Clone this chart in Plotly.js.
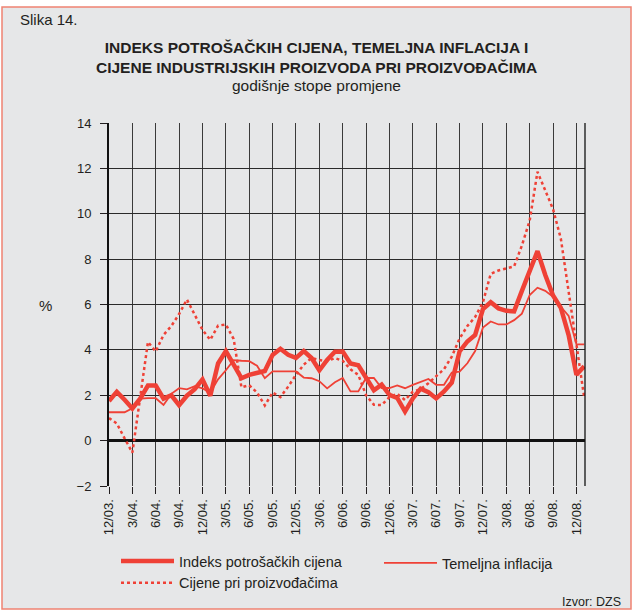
<!DOCTYPE html>
<html>
<head>
<meta charset="utf-8">
<script src="https://cdn.plot.ly/plotly-3.0.1.min.js"></script>
<style>
html,body{margin:0;padding:0;background:#fff;}
#chart{width:633px;height:610px;}
</style>
</head>
<body>
<div id="chart"></div>
<script>
var months = ["12/03.",
 "1/04.","2/04.","3/04.","4/04.","5/04.","6/04.","7/04.","8/04.","9/04.","10/04.","11/04.","12/04.",
 "1/05.","2/05.","3/05.","4/05.","5/05.","6/05.","7/05.","8/05.","9/05.","10/05.","11/05.","12/05.",
 "1/06.","2/06.","3/06.","4/06.","5/06.","6/06.","7/06.","8/06.","9/06.","10/06.","11/06.","12/06.",
 "1/07.","2/07.","3/07.","4/07.","5/07.","6/07.","7/07.","8/07.","9/07.","10/07.","11/07.","12/07.",
 "1/08.","2/08.","3/08.","4/08.","5/08.","6/08.","7/08.","8/08.","9/08.","10/08.","11/08.","12/08.",
 "1/09."];

var xTickLabels = ["12/03.","3/04.","6/04.","9/04.","12/04.","3/05.","6/05.","9/05.","12/05.",
 "3/06.","6/06.","9/06.","12/06.","3/07.","6/07.","9/07.","12/07.","3/08.","6/08.","9/08.","12/08."];

var yTickValues = [-2, 0, 2, 4, 6, 8, 10, 12, 14];
var yTickLabels = ["\u22122", "0", "2", "4", "6", "8", "10", "12", "14"];

var cpi = [1.75, 2.15, 1.8, 1.42, 1.85, 2.43, 2.43, 1.85, 2.0, 1.56, 1.98, 2.27,
 2.7, 1.98, 3.4, 3.95, 3.35, 2.75, 2.9, 3.0, 3.07, 3.78, 4.05, 3.78,
 3.65, 3.95, 3.64, 3.1, 3.56, 3.92, 3.93, 3.4, 3.32, 2.77, 2.22, 2.47,
 2.02, 1.88, 1.28, 1.86, 2.29, 2.13, 1.86, 2.17, 2.56, 3.93, 4.37, 4.66,
 5.8, 6.1, 5.83, 5.72, 5.7, 6.6, 7.45, 8.35, 7.3, 6.4, 5.85, 4.65,
 2.9, 3.28];

var core = [1.25, 1.25, 1.25, 1.43, 1.85, 1.87, 1.87, 1.57, 2.06, 2.31, 2.26, 2.4,
 2.3, 2.12, 2.7, 3.1, 3.55, 3.52, 3.5, 3.3, 2.75, 3.05, 3.05, 3.05,
 3.05, 2.78, 2.75, 2.62, 2.3, 2.57, 2.76, 2.17, 2.17, 2.76, 2.76, 2.32,
 2.32, 2.43, 2.31, 2.46, 2.6, 2.72, 2.46, 2.46, 3.0, 3.04, 3.41, 3.95,
 4.98, 5.25, 5.12, 5.12, 5.31, 5.6, 6.42, 6.74, 6.6, 6.34, 5.9, 5.5,
 4.24, 4.24];

var ppi = [0.99, 0.76, 0.1, -0.53, 1.9, 4.35, 3.93, 4.66, 5.05, 5.58, 6.22, 5.58,
 4.88, 4.44, 5.07, 5.12, 4.48, 2.35, 2.44, 2.12, 1.55, 2.12, 1.92, 2.38,
 2.9, 3.35, 3.64, 3.55, 3.5, 3.64, 3.52, 3.14, 2.9, 2.0, 1.58, 1.57,
 1.92, 2.06, 1.79, 2.16, 2.27, 2.53, 2.82, 3.15, 3.7, 4.5, 5.05, 5.45,
 6.1, 7.35, 7.5, 7.6, 7.68, 8.6, 9.7, 11.85, 11.0, 10.2, 8.9, 6.6,
 4.2, 1.9];

var RED = '#ef4136';
var FONT = 'Liberation Sans, Arial, sans-serif';
var TXT = '#231f20';

var traces = [
  {x: months, y: cpi, type: 'scatter', mode: 'lines', name: 'Indeks potrošačkih cijena',
   legend: 'legend', line: {color: RED, width: 4.5}},
  {x: months, y: core, type: 'scatter', mode: 'lines', name: 'Temeljna inflacija',
   legend: 'legend2', line: {color: RED, width: 1.8}},
  {x: months, y: ppi, type: 'scatter', mode: 'lines', name: 'Cijene pri proizvođačima',
   legend: 'legend', line: {color: RED, width: 2.5, dash: 'dot'}}
];

// page pixel -> paper coords helpers (plot area: x 109..585, y 123..486)
function px(x){ return (x - 109) / 476; }
function py(y){ return (486 - y) / 363; }

function legendAt(xPage, yPage){
  return {
    orientation: 'v',
    xref: 'paper', yref: 'container',
    x: px(xPage), xanchor: 'left',
    y: 1 - yPage/610, yanchor: 'top',
    font: {family: FONT, size: 14.5, color: TXT},
    bgcolor: 'rgba(0,0,0,0)',
    itemwidth: 53,
    tracegroupgap: 0
  };
}

var layout = {
  width: 633, height: 610,
  margin: {l: 109, r: 48, t: 123, b: 124},
  paper_bgcolor: '#ffffff',
  plot_bgcolor: 'rgba(0,0,0,0)',
  font: {family: FONT, color: TXT},
  showlegend: true,
  title: {
    text: '<b>INDEKS POTROŠAČKIH CIJENA, TEMELJNA INFLACIJA I</b>',
    font: {family: FONT, size: 15.5, color: TXT},
    x: 0.5, xref: 'container', xanchor: 'center',
    y: 1 - 48/610, yref: 'container', yanchor: 'middle'
  },
  xaxis: {
    type: 'category',
    range: [0, 61.1],
    tickmode: 'array', tickvals: xTickLabels, ticktext: xTickLabels,
    tickangle: -90,
    tickfont: {family: FONT, size: 13, color: TXT},
    ticks: 'outside', ticklen: 7, tickcolor: TXT, tickwidth: 1,
    showgrid: true, gridcolor: '#3a3a3a', gridwidth: 1,
    showline: false, zeroline: false, fixedrange: true, automargin: false
  },
  yaxis: {
    range: [-2, 14],
    tickmode: 'array', tickvals: yTickValues, ticktext: yTickLabels,
    tickfont: {family: FONT, size: 13, color: TXT},
    ticks: 'outside', ticklen: 7, tickcolor: TXT, tickwidth: 1,
    ticklabelstandoff: 6,
    showgrid: true, gridcolor: '#2a2a2a', gridwidth: 1,
    showline: true, linecolor: '#111', linewidth: 2, mirror: false,
    zeroline: true, zerolinecolor: '#111', zerolinewidth: 2.5,
    fixedrange: true, automargin: false
  },
  legend: legendAt(116, 545),
  legend2: legendAt(379, 547),
  shapes: [
    {type: 'rect', xref: 'paper', yref: 'paper',
     x0: px(2), x1: px(631), y0: py(609), y1: py(7),
     fillcolor: '#e6e7e8', line: {color: '#f08272', width: 1.5}, layer: 'below'},
    {type: 'line', xref: 'paper', yref: 'paper',
     x0: 1, x1: 1, y0: 0, y1: 1,
     line: {color: '#111', width: 1.3}}
  ],
  annotations: [
    {text: '<b>CIJENE INDUSTRIJSKIH PROIZVODA PRI PROIZVOĐAČIMA</b>', xref: 'paper', yref: 'paper',
     x: px(316.5), y: py(67), xanchor: 'center', yanchor: 'middle', showarrow: false,
     font: {family: FONT, size: 15.5, color: TXT}},
    {text: 'godišnje stope promjene', xref: 'paper', yref: 'paper',
     x: px(316.5), y: py(86), xanchor: 'center', yanchor: 'middle', showarrow: false,
     font: {family: FONT, size: 15.5, color: TXT}},
    {text: 'Slika 14.', xref: 'paper', yref: 'paper',
     x: px(18), y: py(20), xanchor: 'left', yanchor: 'middle', showarrow: false,
     font: {family: FONT, size: 15, color: TXT}},
    {text: '%', xref: 'paper', yref: 'paper',
     x: px(45), y: py(305), xanchor: 'center', yanchor: 'middle', showarrow: false,
     font: {family: FONT, size: 15, color: TXT}},
    {text: 'Izvor: DZS', xref: 'paper', yref: 'paper',
     x: px(623), y: py(602), xanchor: 'right', yanchor: 'middle', showarrow: false,
     font: {family: FONT, size: 12.5, color: TXT}}
  ]
};

Plotly.newPlot('chart', traces, layout, {staticPlot: true, displayModeBar: false});
</script>
</body>
</html>
